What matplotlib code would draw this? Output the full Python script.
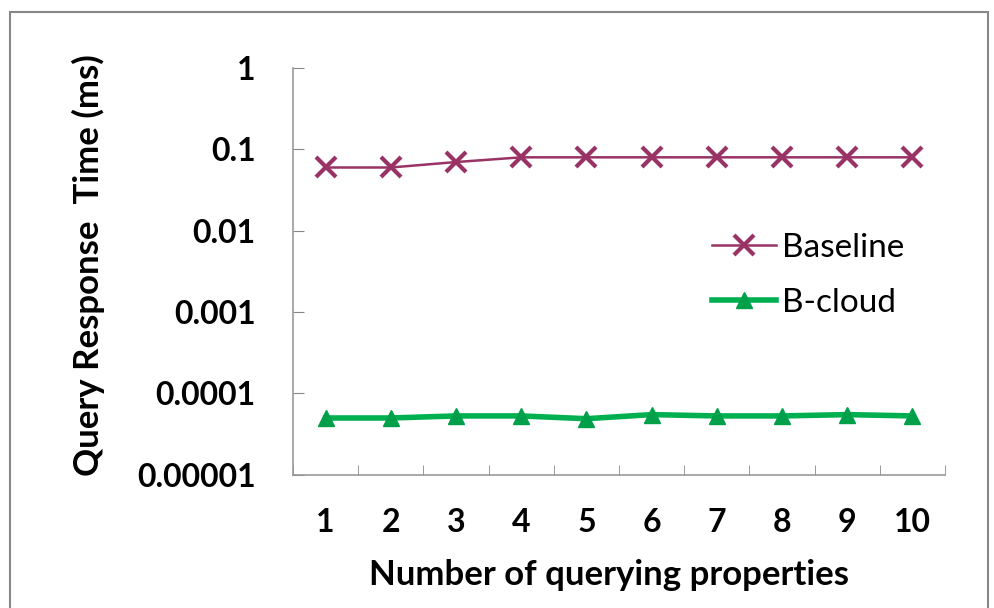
import numpy as np
import matplotlib.pyplot as plt
from matplotlib.patches import Rectangle
from matplotlib.ticker import FixedLocator, NullLocator

# Daten
properties = ["1", "2", "3", "4", "5", "6", "7", "8", "9", "10"]
baseline = [0.06, 0.06, 0.07, 0.08, 0.08, 0.08, 0.08, 0.08, 0.08, 0.08]
bcloud = [5.0e-5, 5.0e-5, 5.3e-5, 5.3e-5, 4.9e-5, 5.5e-5, 5.3e-5, 5.3e-5, 5.5e-5, 5.3e-5]
ytick_vals = [1e-5, 1e-4, 1e-3, 1e-2, 1e-1, 1]
ytick_labels = ["0.00001", "0.0001", "0.001", "0.01", "0.1", "1"]

plt.rcParams['font.family'] = ['Lato', 'DejaVu Sans']

fig = plt.figure(figsize=(9.95, 6.08), dpi=100)
ax = fig.add_axes([0.2945, 0.219, 0.6552, 0.669])

x = np.arange(len(properties))
ax.plot(x, baseline, color='#993366', lw=1.8, marker='x', ms=14, mew=3,
        label='Baseline')
ax.plot(x, bcloud, color='#00B050', lw=4, marker='^', ms=12,
        mfc='#00A04A', mec='#00A04A', label='B-cloud')

ax.set_yscale('log')
ax.set_ylim(1e-5, 1)
ax.yaxis.set_major_locator(FixedLocator(ytick_vals))
ax.yaxis.set_minor_locator(NullLocator())
ax.set_yticklabels(ytick_labels, fontsize=23, fontweight='bold')

ax.set_xlim(-0.5, len(properties) - 0.5)
ax.set_xticks(x)
ax.set_xticklabels(properties, fontsize=23, fontweight='bold')
ax.xaxis.set_minor_locator(FixedLocator(np.arange(-0.5, len(properties), 1.0)))
ax.tick_params(axis='x', which='major', length=0, pad=24)
ax.tick_params(axis='x', which='minor', direction='in', length=7, color='#888888')
ax.tick_params(axis='y', which='major', direction='in', length=8, color='#888888', pad=27)

for s in ['top', 'right']:
    ax.spines[s].set_visible(False)
for s in ['left', 'bottom']:
    ax.spines[s].set_color('#999999')
    ax.spines[s].set_linewidth(1.2)

ax.set_xlabel('Number of querying properties', fontsize=25, fontweight='bold', va='center')
ax.xaxis.set_label_coords(0.485, -0.246)
ax.set_ylabel('Query Response  Time (ms)', fontsize=25, fontweight='bold', va='center')
ax.yaxis.set_label_coords(-0.314, 0.515)

leg = ax.legend(loc='center left', bbox_to_anchor=(0.643, 0.491), frameon=False,
                borderaxespad=0, borderpad=0,
                fontsize=24, handlelength=1.9, handletextpad=0.2, labelspacing=0.75)

# Rahmen um die Grafik
fig.patches.append(Rectangle((0.01, -0.01), 0.983, 0.99, transform=fig.transFigure,
                             fill=False, edgecolor='#888888', lw=1.5))

fig.savefig('out.png', dpi=100)
